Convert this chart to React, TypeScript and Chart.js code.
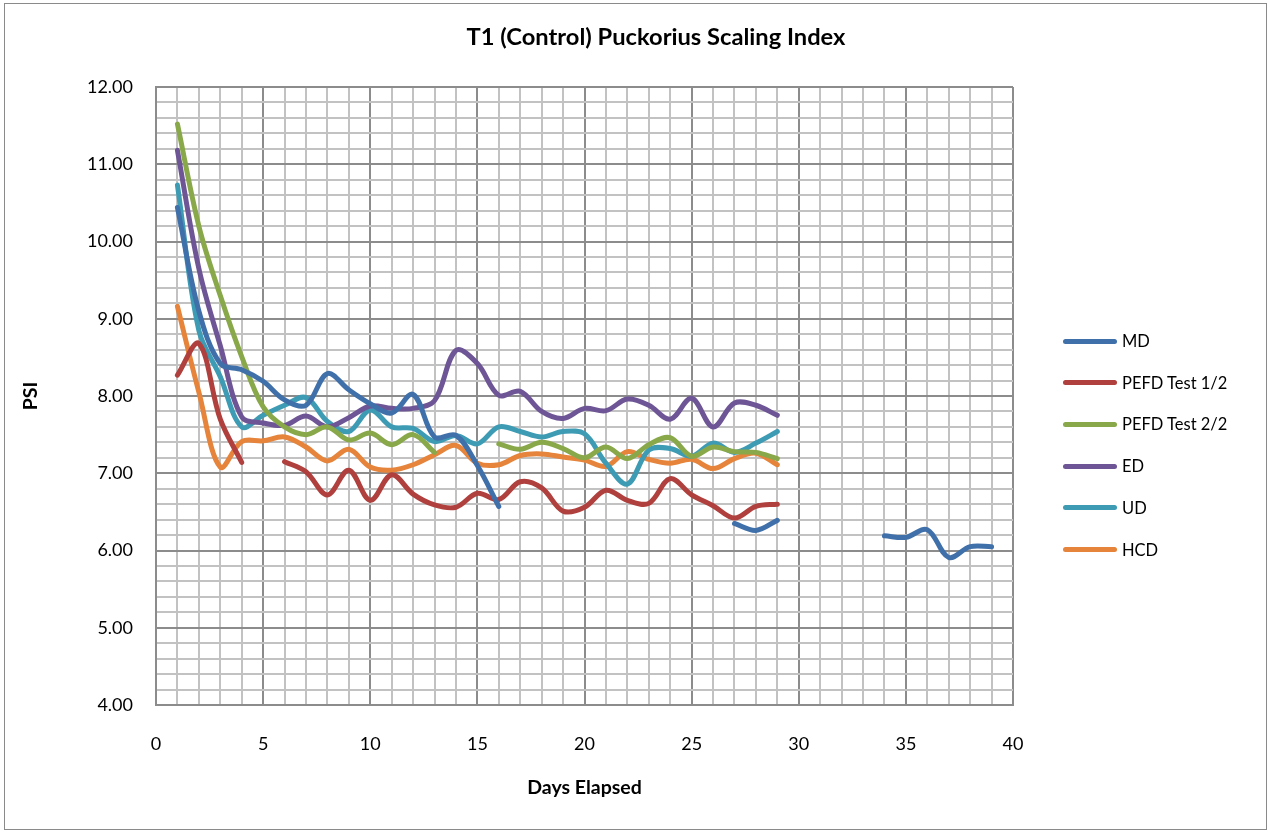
import React, { useEffect, useRef } from "react";
import { Chart, registerables } from "chart.js";

Chart.register(...registerables);

const days = [
  1, 2, 3, 4, 5, 6, 7, 8, 9, 10, 11, 12, 13, 14, 15, 16, 17, 18, 19, 20,
  21, 22, 23, 24, 25, 26, 27, 28, 29, 30, 31, 32, 33, 34, 35, 36, 37, 38, 39,
];

const md = [
  10.44, 9.1, 8.42, 8.34, 8.19, 7.95, 7.88, 8.29, 8.08, 7.9, 7.78, 8.02, 7.47, 7.49, 7.1, 6.57,
  null, null, null, null, null, null, null, null, null, null,
  6.35, 6.26, 6.39,
  null, null, null, null,
  6.19, 6.17, 6.27, 5.91, 6.05, 6.05,
];

const pefd1 = [
  8.27, 8.68, 7.7, 7.14, null, 7.15, 7.02, 6.72, 7.04, 6.65, 6.98, 6.73, 6.59, 6.56, 6.74,
  6.66, 6.89, 6.81, 6.51, 6.56, 6.78, 6.65, 6.61, 6.93, 6.72, 6.58, 6.42, 6.57, 6.6,
];

const pefd2 = [
  11.52, 10.2, 9.3, 8.51, 7.86, 7.6, 7.5, 7.6, 7.43, 7.52, 7.37, 7.5, 7.27, null, null,
  7.38, 7.31, 7.4, 7.32, 7.2, 7.34, 7.19, 7.37, 7.46, 7.22, 7.34, 7.28, 7.27, 7.19,
];

const ed = [
  11.18, 9.65, 8.65, 7.73, 7.65, 7.62, 7.74, 7.6, 7.72, 7.87, 7.84, 7.84, 7.94, 8.59, 8.42,
  8.01, 8.06, 7.8, 7.71, 7.84, 7.81, 7.96, 7.88, 7.7, 7.97, 7.6, 7.91, 7.88, 7.75,
];

const ud = [
  10.73, 8.85, 8.25, 7.6, 7.75, 7.88, 7.98, 7.67, 7.54, 7.82, 7.6, 7.58, 7.41, 7.49, 7.38,
  7.6, 7.54, 7.47, 7.54, 7.51, 7.13, 6.86, 7.3, 7.32, 7.22, 7.39, 7.27, 7.39, 7.54,
];

const hcd = [
  9.16, 8.05, 7.08, 7.41, 7.42, 7.47, 7.34, 7.16, 7.31, 7.08, 7.04, 7.11, 7.24, 7.36, 7.13,
  7.11, 7.23, 7.25, 7.21, 7.17, 7.09, 7.28, 7.18, 7.13, 7.18, 7.06, 7.19, 7.26, 7.11,
];

const seriesNames = ["MD", "PEFD Test 1/2", "PEFD Test 2/2", "ED", "UD", "HCD"];
const seriesColors = ["#4070AA", "#AF403D", "#88A84A", "#6E5595", "#3E9BB4", "#E5843A"];
const seriesValues = [md, pefd1, pefd2, ed, ud, hcd];

const xMajorTicks = [0, 5, 10, 15, 20, 25, 30, 35, 40];
const yMajorTicks = [4, 5, 6, 7, 8, 9, 10, 11, 12];

const TITLE = "T1 (Control) Puckorius Scaling Index";
const X_TITLE = "Days Elapsed";
const Y_TITLE = "PSI";

const FONT = "Lato, 'Open Sans', sans-serif";
const MINOR = "#c2c2c2";
const MAJOR = "#8c8c8c";

const isMajorY = (v: number) => yMajorTicks.some((t) => Math.abs(t - v) < 1e-6);
const isMajorX = (v: number) => xMajorTicks.some((t) => Math.abs(t - v) < 1e-6);

export default function App() {
  const canvasRef = useRef<HTMLCanvasElement | null>(null);

  useEffect(() => {
    document.body.style.margin = "0";
    const canvas = canvasRef.current;
    if (!canvas) return;
    const chart = new Chart(canvas, {
      type: "line",
      data: {
        datasets: seriesNames.map((name, i) => ({
          label: name,
          data: days.map((d, j) => ({ x: d, y: seriesValues[i][j] ?? null })),
          borderColor: seriesColors[i],
          backgroundColor: seriesColors[i],
          borderWidth: 5,
          borderCapStyle: "round",
          borderJoinStyle: "round",
          pointRadius: 0,
          pointHoverRadius: 0,
          tension: 0.35,
          spanGaps: false,
          fill: false,
        })),
      },
      options: {
        animation: false,
        responsive: false,
        devicePixelRatio: 1,
        events: [],
        layout: { padding: { left: 0, right: 257, top: 87, bottom: 0 } },
        plugins: {
          legend: { display: false },
          title: { display: false },
          tooltip: { enabled: false },
        },
        scales: {
          x: {
            type: "linear",
            min: 0,
            max: 40,
            afterFit: (scale: any) => {
              scale.height = 127;
            },
            ticks: {
              stepSize: 1,
              autoSkip: false,
              maxRotation: 0,
              padding: 28,
              color: "#000",
              font: { family: FONT, size: 18 },
              callback: (v: any) => (isMajorX(Number(v)) ? String(v) : ""),
            },
            grid: {
              drawTicks: false,
              lineWidth: 2,
              color: (ctx: any) => (isMajorX(ctx.tick?.value) ? MAJOR : MINOR),
            },
            border: { color: MAJOR, width: 2 },
            title: {
              display: true,
              text: X_TITLE,
              color: "#000",
              font: { family: FONT, size: 19.5, weight: "bold" },
              padding: { top: 0, bottom: 33 },
            },
          },
          y: {
            type: "linear",
            min: 4,
            max: 12,
            afterFit: (scale: any) => {
              scale.width = 156;
            },
            ticks: {
              stepSize: 0.2,
              autoSkip: false,
              padding: 23,
              color: "#000",
              font: { family: FONT, size: 18 },
              callback: (v: any) => (isMajorY(Number(v)) ? Number(v).toFixed(2) : ""),
            },
            grid: {
              drawTicks: false,
              lineWidth: 2,
              color: (ctx: any) => (isMajorY(ctx.tick?.value) ? MAJOR : MINOR),
            },
            border: { color: MAJOR, width: 2 },
            title: {
              display: true,
              text: Y_TITLE,
              color: "#000",
              font: { family: FONT, size: 19.5, weight: "bold" },
              padding: { top: 19, bottom: 0 },
            },
          },
        },
      },
    } as any);
    return () => chart.destroy();
  }, []);

  const legendTop = 341;
  const legendStep = 41.7;

  return (
    <div style={{ position: "relative", width: 1270, height: 832, background: "#fff", overflow: "hidden" }}>
      <canvas ref={canvasRef} width={1270} height={832} style={{ position: "absolute", left: 0, top: 0 }} />
      <div
        style={{
          position: "absolute",
          left: 4,
          top: 3,
          width: 1263,
          height: 827,
          boxSizing: "border-box",
          border: "1px solid #8a8a8a",
          pointerEvents: "none",
        }}
      />
      <div
        style={{
          position: "absolute",
          left: 656,
          top: 36,
          transform: "translate(-50%, -50%)",
          whiteSpace: "nowrap",
          fontFamily: FONT,
          fontWeight: "bold",
          fontSize: 23.7,
          color: "#000",
        }}
      >
        {TITLE}
      </div>
      {seriesNames.map((name, i) => (
        <div
          key={name}
          style={{
            position: "absolute",
            left: 1063,
            top: legendTop + i * legendStep,
            transform: "translateY(-50%)",
            display: "flex",
            alignItems: "center",
            whiteSpace: "nowrap",
          }}
        >
          <span
            style={{
              display: "inline-block",
              width: 54,
              height: 5,
              borderRadius: 3,
              background: seriesColors[i],
            }}
          />
          <span style={{ marginLeft: 5, fontFamily: FONT, fontSize: 16.5, color: "#000" }}>{name}</span>
        </div>
      ))}
    </div>
  );
}
